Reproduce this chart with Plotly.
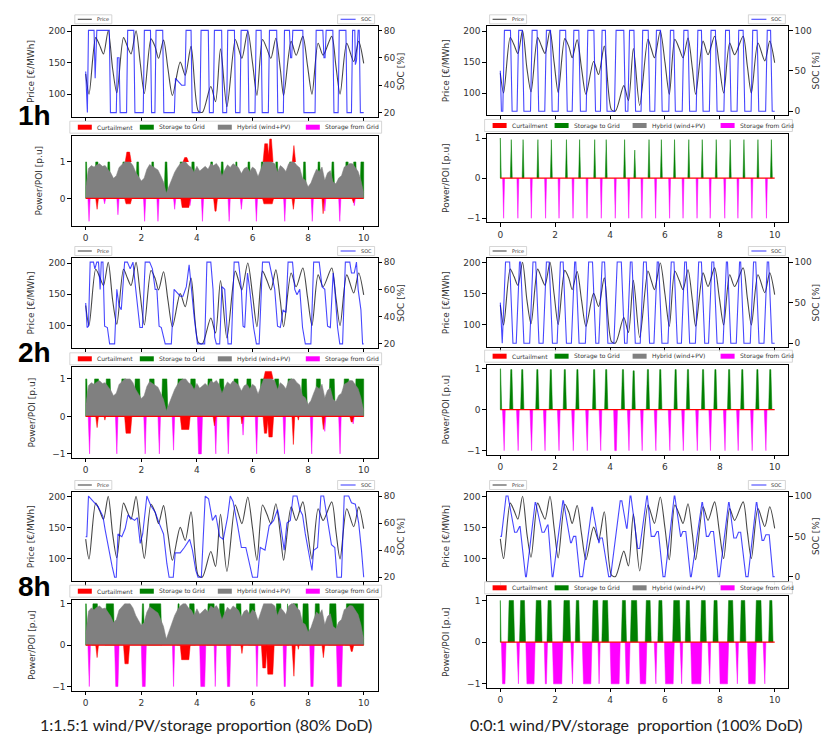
import plotly.graph_objects as go

W, H = 831, 744

# ---------------- data ----------------
time_ticks = [0, 2, 4, 6, 8, 10]
price_ticks = [100, 150, 200]
soc_ticks_80 = [20, 40, 60, 80]
soc_ticks_100 = [0, 50, 100]
power_ticks_1h_mix = [0, 1]
power_ticks = [-1, 0, 1]

duration_labels = ["1h", "2h", "8h"]
captions = ["1:1.5:1 wind/PV/storage proportion (80% DoD)",
            "0:0:1 wind/PV/storage  proportion (100% DoD)"]
power_legend_names = ["Curtailment", "Storage to Grid", "Hybrid (wind+PV)", "Storage from Grid"]

# electricity price (t [days], €/MWh)
price = [(0.00, 132), (0.12, 100), (0.36, 190), (0.50, 178), (0.64, 164), (0.81, 201), (0.97, 140),
         (1.12, 102), (1.36, 190), (1.50, 176), (1.63, 164), (1.81, 201), (1.96, 150), (2.11, 101),
         (2.35, 188), (2.50, 175), (2.62, 157), (2.80, 186), (2.96, 140), (3.12, 98), (3.40, 151),
         (3.58, 130), (3.79, 176), (4.05, 73), (4.20, 71), (4.50, 112), (4.67, 88), (4.85, 172),
         (5.08, 80), (5.38, 187), (5.50, 172), (5.62, 157), (5.83, 200), (6.00, 150), (6.16, 98),
         (6.36, 187), (6.52, 172), (6.66, 157), (6.84, 189), (7.00, 140), (7.12, 98), (7.39, 184),
         (7.57, 162), (7.81, 192), (7.98, 145), (8.14, 100), (8.36, 181), (8.54, 162), (8.85, 192),
         (9.00, 145), (9.15, 100), (9.39, 181), (9.64, 152), (9.82, 184), (10.00, 149)]

# hybrid (wind+PV) output to grid, every 0.1 day
hybrid_t = [i / 10 for i in range(101)]
hybrid = [0.28, 0.82, 0.90, 0.86, 0.92, 0.95, 0.88, 0.90, 0.80, 0.70,
          0.55, 0.62, 0.85, 0.92, 1.00, 1.00, 1.00, 0.90, 0.72, 0.60,
          0.48, 0.55, 0.80, 0.93, 0.88, 0.85, 0.78, 0.62, 0.45, 0.15,
          0.35, 0.55, 0.72, 0.85, 0.95, 1.00, 1.00, 0.90, 0.85, 0.72,
          0.88, 0.75, 0.82, 0.88, 0.80, 0.95, 0.90, 0.96, 0.85, 0.62,
          0.78, 0.92, 0.85, 0.95, 0.90, 0.84, 0.68, 0.82, 0.86, 0.74,
          0.86, 0.80, 0.60, 0.78, 1.00, 1.00, 1.00, 1.00, 0.95, 0.72,
          0.90, 0.84, 0.74, 0.95, 1.00, 1.00, 0.90, 0.84, 0.55, 0.50,
          0.32, 0.42, 0.62, 0.80, 0.74, 0.86, 0.50, 0.70, 0.76, 0.45,
          0.40, 0.56, 0.62, 0.86, 0.90, 0.96, 0.95, 0.86, 0.74, 0.50,
          0.15]
curtail_zero_t = [0, 10]
curtail_zero_v = [0, 0]

# state of charge (t, %)
soc_1h_mix = [(0, 50), (0.04, 20), (0.06, 20), (0.10, 80), (0.30, 80), (0.34, 45), (0.37, 70), (0.40, 80),
              (0.85, 80), (0.89, 20), (1.10, 20), (1.14, 60), (1.20, 60), (1.24, 20), (1.47, 20), (1.51, 80),
              (1.73, 80), (1.77, 20), (2.07, 20), (2.11, 80), (2.33, 80), (2.37, 20), (2.49, 20), (2.53, 80),
              (2.77, 80), (2.81, 20), (3.19, 20), (3.23, 45), (3.45, 40), (3.57, 40), (3.61, 80), (3.79, 80),
              (3.83, 20), (4.11, 20), (4.15, 80), (4.41, 80), (4.45, 20), (4.59, 20), (4.63, 80), (4.89, 80),
              (4.93, 20), (5.07, 20), (5.11, 80), (5.35, 80), (5.39, 20), (5.55, 20), (5.59, 80), (5.83, 80),
              (5.87, 20), (6.09, 20), (6.13, 80), (6.31, 80), (6.35, 20), (6.57, 20), (6.61, 80), (6.87, 80),
              (6.91, 20), (7.11, 20), (7.15, 80), (7.33, 80), (7.37, 60), (7.41, 60), (7.45, 80), (7.81, 80),
              (7.85, 20), (8.25, 20), (8.29, 80), (8.53, 80), (8.57, 60), (8.61, 60), (8.65, 80), (8.89, 80),
              (8.93, 20), (9.08, 20), (9.12, 80), (9.36, 80), (9.40, 20), (9.56, 20), (9.60, 80), (9.68, 80),
              (9.70, 55), (9.74, 58), (9.80, 80), (9.84, 80), (9.88, 20), (10.00, 20)]
soc_2h_mix = [(0, 50), (0.05, 32), (0.10, 33), (0.16, 80), (0.28, 80), (0.33, 75), (0.40, 80), (0.46, 80),
              (0.52, 60), (0.56, 80), (0.62, 80), (0.68, 33), (0.78, 32), (0.86, 20), (1.04, 20), (1.12, 60),
              (1.20, 48), (1.28, 45), (1.40, 80), (1.50, 80), (1.60, 75), (1.70, 80), (1.80, 60), (1.95, 32),
              (2.04, 32), (2.14, 80), (2.30, 80), (2.40, 75), (2.50, 60), (2.56, 60), (2.64, 33), (2.72, 32),
              (2.86, 20), (3.08, 20), (3.18, 60), (3.28, 58), (3.40, 55), (3.50, 55), (3.62, 62), (3.72, 78),
              (3.80, 60), (3.90, 40), (4.02, 20), (4.28, 20), (4.36, 80), (4.50, 80), (4.58, 60), (4.64, 25),
              (4.70, 20), (4.82, 20), (4.90, 62), (5.00, 60), (5.08, 33), (5.12, 20), (5.24, 20), (5.34, 80),
              (5.50, 80), (5.60, 60), (5.66, 33), (5.72, 32), (5.82, 72), (5.90, 60), (6.04, 32), (6.14, 20),
              (6.24, 20), (6.36, 80), (6.60, 80), (6.70, 70), (6.80, 60), (6.90, 33), (7.00, 32), (7.10, 45),
              (7.20, 43), (7.28, 80), (7.44, 80), (7.52, 60), (7.60, 56), (7.70, 60), (7.80, 32), (7.90, 20),
              (8.10, 20), (8.20, 80), (8.40, 80), (8.50, 62), (8.60, 60), (8.70, 33), (8.80, 32), (8.90, 72),
              (8.96, 60), (9.06, 32), (9.14, 20), (9.24, 20), (9.34, 80), (9.50, 80), (9.56, 72), (9.66, 72),
              (9.74, 80), (9.80, 60), (9.90, 45), (9.96, 20), (10.00, 20)]
soc_8h_mix = [(0, 50), (0.04, 50), (0.10, 80), (0.20, 78), (0.32, 75), (0.45, 72), (0.55, 68), (0.62, 65),
              (0.70, 55), (0.85, 38), (0.95, 28), (1.04, 20), (1.10, 20), (1.16, 52), (1.30, 50), (1.42, 56),
              (1.52, 66), (1.62, 64), (1.76, 62), (1.86, 64), (1.96, 45), (2.05, 52), (2.20, 80), (2.34, 73),
              (2.50, 68), (2.64, 60), (2.80, 52), (2.92, 30), (3.00, 20), (3.15, 20), (3.22, 38), (3.40, 38),
              (3.55, 42), (3.74, 48), (3.84, 40), (3.96, 25), (4.04, 20), (4.16, 20), (4.30, 80), (4.42, 78),
              (4.56, 62), (4.68, 66), (4.82, 50), (4.95, 48), (5.10, 64), (5.20, 80), (5.30, 76), (5.45, 60),
              (5.60, 42), (5.76, 42), (5.90, 30), (6.00, 20), (6.18, 20), (6.28, 42), (6.45, 40), (6.60, 58),
              (6.76, 62), (6.90, 70), (7.00, 60), (7.14, 40), (7.24, 60), (7.36, 62), (7.46, 80), (7.60, 80),
              (7.70, 70), (7.80, 66), (7.90, 52), (8.02, 38), (8.14, 25), (8.20, 40), (8.34, 42), (8.46, 80),
              (8.56, 80), (8.70, 62), (8.84, 44), (8.96, 42), (9.04, 20), (9.20, 20), (9.30, 80), (9.46, 80),
              (9.56, 75), (9.70, 74), (9.82, 60), (9.92, 40), (10.00, 20)]
soc_1h_sto = [(0, 50), (0.04, 0), (0.09, 0), (0.15, 100), (0.37, 100), (0.43, 0), (0.61, 0), (0.67, 100),
              (0.80, 100), (0.86, 0), (1.10, 0), (1.16, 100), (1.34, 100), (1.40, 0), (1.62, 0), (1.68, 100),
              (1.83, 100), (1.89, 0), (2.11, 0), (2.17, 100), (2.38, 100), (2.44, 0), (2.62, 0), (2.68, 100),
              (2.86, 100), (2.92, 0), (3.13, 0), (3.19, 100), (3.41, 100), (3.47, 0), (3.65, 0), (3.71, 100),
              (3.83, 100), (3.89, 0), (4.16, 0), (4.22, 100), (4.50, 100), (4.56, 0), (4.65, 0), (4.71, 100),
              (4.87, 100), (4.93, 0), (5.13, 0), (5.19, 100), (5.39, 100), (5.45, 0), (5.63, 0), (5.69, 100),
              (5.84, 100), (5.90, 0), (6.14, 0), (6.20, 100), (6.32, 100), (6.38, 0), (6.63, 0), (6.69, 100),
              (6.84, 100), (6.90, 0), (7.14, 0), (7.20, 100), (7.33, 100), (7.39, 0), (7.62, 0), (7.68, 100),
              (7.84, 100), (7.90, 0), (8.15, 0), (8.21, 100), (8.35, 100), (8.41, 0), (8.63, 0), (8.69, 100),
              (8.85, 100), (8.91, 0), (9.14, 0), (9.20, 100), (9.36, 100), (9.42, 0), (9.67, 0), (9.73, 100),
              (9.85, 100), (9.91, 0), (10.00, 0)]
soc_2h_sto = [(0, 50), (0.06, 5), (0.07, 0), (0.19, 100), (0.34, 100), (0.46, 0), (0.58, 0), (0.70, 100),
              (0.74, 100), (0.86, 0), (1.07, 0), (1.19, 100), (1.29, 100), (1.41, 0), (1.56, 0), (1.68, 100),
              (1.78, 100), (1.90, 0), (2.07, 0), (2.19, 100), (2.29, 100), (2.41, 0), (2.59, 0), (2.71, 100),
              (2.75, 100), (2.87, 0), (3.10, 0), (3.22, 100), (3.36, 100), (3.48, 0), (3.59, 0), (3.71, 100),
              (3.80, 100), (3.92, 0), (4.14, 0), (4.26, 100), (4.41, 100), (4.53, 0), (4.62, 0), (4.74, 100),
              (4.80, 100), (4.92, 0), (5.10, 0), (5.22, 100), (5.32, 100), (5.44, 0), (5.60, 0), (5.72, 100),
              (5.77, 100), (5.89, 0), (6.11, 0), (6.23, 100), (6.33, 100), (6.45, 0), (6.60, 0), (6.72, 100),
              (6.78, 100), (6.90, 0), (7.11, 0), (7.23, 100), (7.33, 100), (7.45, 0), (7.59, 0), (7.71, 100),
              (7.78, 100), (7.90, 0), (8.12, 0), (8.24, 100), (8.28, 100), (8.40, 0), (8.60, 0), (8.72, 100),
              (8.76, 100), (8.88, 0), (9.11, 0), (9.23, 100), (9.31, 100), (9.43, 0), (9.61, 0), (9.73, 100),
              (9.78, 100), (9.90, 0), (10.00, 0)]
soc_8h_sto = [(0, 50), (0.04, 50), (0.21, 100), (0.28, 100), (0.52, 55), (0.60, 55), (0.70, 62), (0.72, 62),
              (0.92, 0), (0.95, 0), (1.27, 92), (1.29, 92), (1.52, 55), (1.60, 55), (1.72, 64), (1.74, 64),
              (1.89, 0), (1.92, 0), (2.28, 94), (2.30, 94), (2.56, 42), (2.59, 42), (2.67, 50), (2.75, 50),
              (2.90, 0), (3.00, 0), (3.34, 86), (3.36, 86), (3.59, 42), (3.60, 42), (3.64, 48), (3.72, 48),
              (3.95, 0), (4.02, 0), (4.37, 94), (4.43, 94), (4.60, 60), (4.62, 60), (4.73, 100), (4.76, 100),
              (5.01, 35), (5.08, 35), (5.34, 100), (5.36, 100), (5.50, 50), (5.62, 50), (5.71, 56), (5.76, 56),
              (5.93, 0), (6.00, 0), (6.34, 100), (6.36, 100), (6.57, 50), (6.58, 50), (6.65, 56), (6.76, 56),
              (6.93, 0), (6.96, 0), (7.35, 92), (7.37, 92), (7.51, 50), (7.59, 50), (7.67, 56), (7.77, 56),
              (7.94, 0), (7.99, 0), (8.32, 92), (8.34, 92), (8.51, 48), (8.60, 48), (8.68, 55), (8.76, 55),
              (8.95, 0), (9.03, 0), (9.33, 92), (9.35, 92), (9.54, 45), (9.60, 45), (9.68, 52), (9.80, 52),
              (9.94, 0), (10.00, 0)]

# power events: (start day, end day, level in p.u.)
to_grid_1h_mix = [(-0.04, 0.07, 1), (0.32, 0.48, 1), (0.76, 0.90, 1), (1.30, 1.44, 1), (1.80, 1.94, 1),
                  (2.34, 2.48, 1), (2.82, 2.96, 1), (3.36, 3.52, 1), (3.78, 3.94, 1), (4.46, 4.60, 1),
                  (4.84, 4.98, 1), (5.36, 5.48, 1), (5.80, 5.94, 1), (6.28, 6.42, 1), (6.80, 6.94, 1),
                  (7.30, 7.44, 1), (7.80, 7.94, 1), (8.32, 8.46, 1), (8.82, 8.96, 1), (9.32, 9.48, 1),
                  (9.60, 9.76, 1), (9.86, 10.04, 1)]
from_grid_1h_mix = [(0.08, 0.16, -0.63), (0.64, 0.72, -0.15), (1.12, 1.20, -0.45), (2.08, 2.16, -0.63),
                    (2.56, 2.64, -0.63), (3.16, 3.24, -0.30), (3.71, 3.79, -0.20), (4.16, 4.24, -0.63),
                    (5.12, 5.20, -0.63), (5.56, 5.64, -0.30), (6.10, 6.18, -0.63), (7.12, 7.20, -0.63),
                    (8.11, 8.19, -0.63), (8.56, 8.64, -0.35), (9.10, 9.18, -0.63), (9.62, 9.70, -0.20)]
curt_neg_1h_mix = [(0.36, 0.46, -0.30), (1.40, 1.66, -0.15), (3.42, 3.76, -0.25), (4.60, 4.74, -0.35),
                   (6.36, 6.76, -0.15), (7.42, 7.52, -0.30), (8.50, 8.58, -0.42), (9.58, 9.68, -0.12)]
curt_pos_1h_mix = [(1.42, 1.64, 1.27), (3.50, 3.70, 1.12), (6.38, 6.60, 1.50), (6.56, 6.74, 1.63),
                   (7.43, 7.55, 1.45)]

to_grid_2h_mix = [(-0.04, 0.08, 1), (0.28, 0.50, 1), (0.70, 0.92, 1), (1.26, 1.48, 1), (1.74, 1.98, 1),
                  (2.26, 2.50, 1), (2.72, 2.96, 1), (3.28, 3.54, 1), (3.74, 3.98, 1), (4.36, 4.58, 1),
                  (4.78, 5.00, 1), (5.30, 5.52, 1), (5.76, 5.98, 1), (6.26, 6.46, 1), (6.76, 6.98, 1),
                  (7.24, 7.46, 1), (7.74, 7.98, 1), (8.26, 8.48, 1), (8.74, 8.98, 1), (9.26, 9.50, 1),
                  (9.68, 10.04, 1)]
from_grid_2h_mix = [(0.09, 0.18, -1), (1.07, 1.16, -1), (2.09, 2.18, -1), (2.60, 2.69, -1), (3.11, 3.20, -0.9),
                    (4.02, 4.20, -1), (4.63, 4.72, -1), (5.08, 5.17, -1), (5.62, 5.70, -0.5), (6.10, 6.19, -1),
                    (7.10, 7.19, -1), (8.08, 8.17, -1), (8.56, 8.64, -0.4), (9.10, 9.19, -1), (9.58, 9.66, -0.2)]
curt_neg_2h_mix = [(0.36, 0.46, -0.30), (0.66, 0.72, -0.10), (1.40, 1.66, -0.45), (3.40, 3.76, -0.35),
                   (4.58, 4.68, -0.25), (5.58, 5.66, -0.20), (6.38, 6.56, -0.45), (6.54, 6.76, -0.55),
                   (7.42, 7.52, -0.75), (7.62, 7.68, -0.10), (8.50, 8.60, -0.35), (9.50, 9.64, -0.15)]
curt_pos_2h_mix = [(6.40, 6.74, 1.20)]

to_grid_8h_mix = [(-0.04, 0.06, 1), (0.22, 0.46, 1), (0.70, 1.04, 1), (2.00, 2.12, 1), (2.26, 2.74, 1),
                  (3.28, 3.40, 1), (3.70, 3.94, 1), (4.36, 4.66, 1), (4.78, 5.02, 1), (5.38, 5.62, 1),
                  (5.86, 6.12, 1), (6.82, 7.06, 1), (7.22, 7.30, 1), (7.42, 7.66, 1), (7.78, 8.04, 1),
                  (8.22, 8.44, 1), (8.74, 9.04, 1), (9.34, 10.04, 1)]
from_grid_8h_mix = [(0.08, 0.17, -1), (1.04, 1.20, -1), (2.00, 2.18, -1), (3.12, 3.20, -1), (4.10, 4.32, -1),
                    (4.62, 4.70, -1), (5.06, 5.22, -1), (6.12, 6.20, -1), (7.10, 7.22, -1), (8.06, 8.22, -1),
                    (9.02, 9.24, -1)]
curt_neg_8h_mix = [(0.36, 0.46, -0.30), (1.36, 1.58, -0.45), (3.40, 3.76, -0.35), (5.58, 5.66, -0.20),
                   (6.32, 6.52, -0.55), (6.50, 6.78, -0.70), (7.42, 7.54, -0.75), (7.62, 7.68, -0.10),
                   (8.50, 8.60, -0.30), (9.50, 9.64, -0.15)]

to_grid_1h_sto = [(-0.035, 0.035, 1), (0.365, 0.435, 0.96), (0.795, 0.865, 0.96), (1.335, 1.405, 0.96),
                  (1.825, 1.895, 0.96), (2.375, 2.445, 0.96), (2.855, 2.925, 0.96), (3.405, 3.475, 0.96),
                  (3.825, 3.895, 0.96), (4.495, 4.565, 0.96), (4.865, 4.935, 0.70), (5.385, 5.455, 0.96),
                  (5.835, 5.905, 0.96), (6.315, 6.385, 0.96), (6.835, 6.905, 0.96), (7.325, 7.395, 0.96),
                  (7.835, 7.905, 0.96), (8.345, 8.415, 0.96), (8.845, 8.915, 0.96), (9.355, 9.425, 0.96),
                  (9.845, 9.915, 0.96)]
from_grid_1h_sto = [(0.085, 0.155, -1), (0.605, 0.675, -1), (1.095, 1.165, -1), (1.615, 1.685, -1),
                    (2.105, 2.175, -1), (2.615, 2.685, -1), (3.125, 3.195, -1), (3.645, 3.715, -1),
                    (4.155, 4.225, -1), (4.645, 4.715, -1), (5.125, 5.195, -1), (5.625, 5.695, -1),
                    (6.135, 6.205, -1), (6.625, 6.695, -1), (7.135, 7.205, -1), (7.615, 7.685, -1),
                    (8.145, 8.215, -1), (8.625, 8.695, -1), (9.135, 9.205, -1), (9.665, 9.735, -1)]

to_grid_2h_sto = [(-0.05, 0.05, 1), (0.34, 0.46, 0.98), (0.74, 0.86, 0.98), (1.29, 1.41, 0.98),
                  (1.78, 1.90, 0.98), (2.29, 2.41, 0.98), (2.75, 2.87, 0.98), (3.36, 3.48, 0.98),
                  (3.80, 3.92, 0.98), (4.41, 4.53, 0.98), (4.80, 4.92, 0.95), (5.32, 5.44, 0.98),
                  (5.77, 5.89, 0.98), (6.33, 6.45, 0.98), (6.78, 6.90, 0.98), (7.33, 7.45, 0.98),
                  (7.78, 7.90, 0.98), (8.28, 8.40, 0.98), (8.76, 8.88, 0.98), (9.31, 9.43, 0.98),
                  (9.78, 9.90, 0.98)]
from_grid_2h_sto = [(0.08, 0.18, -1), (0.59, 0.69, -1), (1.08, 1.18, -1), (1.57, 1.67, -1), (2.08, 2.18, -1),
                    (2.60, 2.70, -1), (3.11, 3.21, -1), (3.60, 3.70, -1), (4.13, 4.27, -1), (4.63, 4.73, -1),
                    (5.11, 5.21, -1), (5.61, 5.71, -1), (6.12, 6.22, -1), (6.61, 6.71, -1), (7.12, 7.22, -1),
                    (7.60, 7.70, -1), (8.13, 8.23, -1), (8.61, 8.71, -1), (9.12, 9.22, -1), (9.62, 9.72, -1)]

to_grid_8h_sto = [(-0.03, 0.03, 1), (0.28, 0.52, 1), (0.70, 0.92, 1), (1.27, 1.52, 1), (1.70, 1.89, 1),
                  (2.28, 2.56, 1), (2.73, 2.90, 1), (3.34, 3.59, 1), (3.70, 3.95, 1), (4.41, 4.60, 1),
                  (4.74, 5.01, 1), (5.28, 5.50, 1), (5.74, 5.93, 1), (6.28, 6.57, 1), (6.74, 6.93, 1),
                  (7.29, 7.51, 1), (7.75, 7.94, 1), (8.28, 8.51, 1), (8.74, 8.95, 1), (9.29, 9.54, 1),
                  (9.78, 9.94, 1)]
from_grid_8h_sto = [(0.04, 0.21, -1), (0.60, 0.70, -1), (0.93, 1.27, -1), (1.60, 1.72, -1), (1.90, 2.28, -1),
                    (2.57, 2.67, -1), (2.99, 3.34, -1), (3.56, 3.64, -1), (4.00, 4.37, -1), (4.55, 4.73, -1),
                    (5.06, 5.34, -1), (5.61, 5.71, -1), (5.98, 6.34, -1), (6.55, 6.65, -1), (6.94, 7.35, -1),
                    (7.57, 7.67, -1), (7.97, 8.32, -1), (8.58, 8.68, -1), (9.01, 9.33, -1), (9.58, 9.68, -1)]

# ---------------- styles ----------------
C_PRICE = "rgba(0,0,0,0.72)"
C_SOC = "rgba(0,0,255,0.72)"
C_RED, C_GREEN, C_GRAY, C_MAG = "#ff0000", "#008000", "#808080", "#ff00ff"
FONT = "DejaVu Sans"
TXT = "#333333"

# pixel geometry of each panel (left, right, price top/bottom, power top/bottom)
GEOM = {
    (0, 0): (63.8, 369.6, 18.3, 108.7, 127.7, 217.7),
    (1, 0): (63.8, 369.6, 250.0, 340.0, 359.3, 450.0),
    (2, 0): (63.8, 369.6, 484.0, 573.3, 591.7, 682.7),
    (0, 1): (478.6, 780.4, 18.3, 107.3, 126.0, 214.3),
    (1, 1): (478.6, 780.4, 250.0, 339.3, 356.7, 446.7),
    (2, 1): (478.6, 780.4, 484.0, 572.7, 588.3, 680.0),
}

panels = [
    dict(row=0, col=0, soc=soc_1h_mix, soc_rng=[17, 83], soc_ticks=soc_ticks_80, pw_rng=[-0.75, 1.72],
         pw_ticks=power_ticks_1h_mix, mix=True, green=to_grid_1h_mix, mag=from_grid_1h_mix,
         red=curt_neg_1h_mix, redtop=curt_pos_1h_mix),
    dict(row=0, col=1, soc=soc_1h_sto, soc_rng=[-5, 105], soc_ticks=soc_ticks_100, pw_rng=[-1.1, 1.1],
         pw_ticks=power_ticks, mix=False, green=to_grid_1h_sto, mag=from_grid_1h_sto, red=[], redtop=[]),
    dict(row=1, col=0, soc=soc_2h_mix, soc_rng=[17, 83], soc_ticks=soc_ticks_80, pw_rng=[-1.11, 1.31],
         pw_ticks=power_ticks, mix=True, green=to_grid_2h_mix, mag=from_grid_2h_mix,
         red=curt_neg_2h_mix, redtop=curt_pos_2h_mix),
    dict(row=1, col=1, soc=soc_2h_sto, soc_rng=[-5, 105], soc_ticks=soc_ticks_100, pw_rng=[-1.1, 1.1],
         pw_ticks=power_ticks, mix=False, green=to_grid_2h_sto, mag=from_grid_2h_sto, red=[], redtop=[]),
    dict(row=2, col=0, soc=soc_8h_mix, soc_rng=[17, 83], soc_ticks=soc_ticks_80, pw_rng=[-1.1, 1.1],
         pw_ticks=power_ticks, mix=True, green=to_grid_8h_mix, mag=from_grid_8h_mix,
         red=curt_neg_8h_mix, redtop=[]),
    dict(row=2, col=1, soc=soc_8h_sto, soc_rng=[-5, 105], soc_ticks=soc_ticks_100, pw_rng=[-1.1, 1.1],
         pw_ticks=power_ticks, mix=False, green=to_grid_8h_sto, mag=from_grid_8h_sto, red=[], redtop=[]),
]


def polys(events, base, ramp):
    xs, ys = [], []
    for a, b, lvl in events:
        r = min(ramp, (b - a) / 2)
        for x, y in ((a, base), (a + r, lvl), (b - r, lvl), (b, base)):
            xs.append(max(0.0, min(10.0, x)))
            ys.append(y)
        xs.append(None)
        ys.append(None)
    return xs, ys


def px(x):
    return x / W


def py(y):
    return 1 - y / H


axis_common = dict(showline=True, linecolor="black", linewidth=0.8, ticks="outside", ticklen=3.5,
                   tickwidth=0.8, tickcolor="black", showgrid=False, zeroline=False, automargin=False,
                   tickfont=dict(family=FONT, size=9, color=TXT))
title_font = dict(family=FONT, size=9, color=TXT)

fig = go.Figure()
layout = {}
shapes, annots = [], []


def fill_trace(xs, ys, color, name, xr, yr, fill="toself"):
    return go.Scatter(x=xs, y=ys, mode="lines", fill=fill, fillcolor=color,
                      line=dict(color=color, width=0.5), name=name, showlegend=False,
                      hoverinfo="skip", xaxis=xr, yaxis=yr)


for i, p in enumerate(panels):
    L, R, pt, pb, wt, wb = GEOM[(p["row"], p["col"])]
    nx1, nx2 = 2 * i + 1, 2 * i + 2
    ny1, ny2, ny3 = 3 * i + 1, 3 * i + 2, 3 * i + 3
    xr1, xr2 = ("x" if nx1 == 1 else f"x{nx1}"), f"x{nx2}"
    yr1, yr2, yr3 = ("y" if ny1 == 1 else f"y{ny1}"), f"y{ny2}", f"y{ny3}"
    xa1, xa2 = ("xaxis" if nx1 == 1 else f"xaxis{nx1}"), f"xaxis{nx2}"
    ya1, ya2, ya3 = ("yaxis" if ny1 == 1 else f"yaxis{ny1}"), f"yaxis{ny2}", f"yaxis{ny3}"

    # ---- price / SOC subplot ----
    fig.add_trace(go.Scatter(x=[t for t, _ in price], y=[v for _, v in price], mode="lines", name="Price",
                             line=dict(color=C_PRICE, width=1.1, shape="spline", smoothing=0.8),
                             showlegend=False, hoverinfo="skip", xaxis=xr1, yaxis=yr1))
    fig.add_trace(go.Scatter(x=[t for t, _ in p["soc"]], y=[v for _, v in p["soc"]], mode="lines", name="SOC",
                             line=dict(color=C_SOC, width=1.1), showlegend=False, hoverinfo="skip",
                             xaxis=xr1, yaxis=yr2))

    # ---- power subplot ----
    if p["redtop"]:
        xs, ys = polys(p["redtop"], 1.0, 0.06)
        fig.add_trace(fill_trace(xs, ys, C_RED, "Curtailment", xr2, yr3))
    xs, ys = polys(p["green"], 0.0, 0.04)
    fig.add_trace(fill_trace(xs, ys, C_GREEN, "Storage to Grid", xr2, yr3))
    if p["mix"]:
        fig.add_trace(fill_trace(hybrid_t, hybrid, C_GRAY, "Hybrid (wind+PV)", xr2, yr3, fill="tozeroy"))
    xs, ys = polys(p["mag"], 0.0, 0.04)
    fig.add_trace(fill_trace(xs, ys, C_MAG, "Storage from Grid", xr2, yr3))
    if p["red"]:
        xs, ys = polys(p["red"], 0.0, 0.05)
        fig.add_trace(fill_trace(xs, ys, C_RED, "Curtailment", xr2, yr3))
    fig.add_trace(go.Scatter(x=curtail_zero_t, y=curtail_zero_v, mode="lines", line=dict(color=C_RED, width=1.2),
                             showlegend=False, hoverinfo="skip", xaxis=xr2, yaxis=yr3, name="Curtailment"))

    # ---- axes ----
    layout[xa1] = dict(domain=[px(L), px(R)], anchor=yr1, range=[-0.5, 10.5], tickvals=time_ticks,
                       showticklabels=False, mirror=True, **axis_common)
    layout[xa2] = dict(domain=[px(L), px(R)], anchor=yr3, range=[-0.5, 10.5], tickvals=time_ticks,
                       mirror=True, **axis_common)
    layout[ya1] = dict(domain=[py(pb), py(pt)], anchor=xr1, range=[64, 208], tickvals=price_ticks, mirror=True,
                       title=dict(text="Price [€/MWh]", font=title_font, standoff=12), **axis_common)
    layout[ya2] = dict(overlaying=yr1, side="right", anchor=xr1, range=p["soc_rng"], tickvals=p["soc_ticks"],
                       title=dict(text="SOC [%]", font=title_font, standoff=1), **axis_common)
    layout[ya3] = dict(domain=[py(wb), py(wt)], anchor=xr2, range=p["pw_rng"], tickvals=p["pw_ticks"], mirror=True,
                       title=dict(text="Power/POI [p.u]", font=title_font, standoff=15), **axis_common)

    # ---- legends (matplotlib-style boxes) ----
    box = dict(type="rect", xref="paper", yref="paper", fillcolor="rgba(255,255,255,0.9)",
               line=dict(color="#cccccc", width=0.8), layer="above")
    shapes.append(dict(box, x0=px(L + 3), x1=px(L + 40), y0=py(pt - 2.5), y1=py(pt - 11.5)))
    shapes.append(dict(type="line", xref="paper", yref="paper", x0=px(L + 6), x1=px(L + 20),
                       y0=py(pt - 7), y1=py(pt - 7), line=dict(color=C_PRICE, width=1.1)))
    annots.append(dict(text="Price", x=px(L + 23), y=py(pt - 7), xref="paper", yref="paper", xanchor="left",
                       yanchor="middle", showarrow=False, font=dict(family=FONT, size=5, color=TXT)))
    shapes.append(dict(box, x0=px(R - 40), x1=px(R - 3), y0=py(pt - 2.5), y1=py(pt - 11.5)))
    shapes.append(dict(type="line", xref="paper", yref="paper", x0=px(R - 37), x1=px(R - 22),
                       y0=py(pt - 7), y1=py(pt - 7), line=dict(color=C_SOC, width=1.1)))
    annots.append(dict(text="SOC", x=px(R - 19), y=py(pt - 7), xref="paper", yref="paper", xanchor="left",
                       yanchor="middle", showarrow=False, font=dict(family=FONT, size=5, color=TXT)))

    shapes.append(dict(box, x0=px(L - 2), x1=px(R + 4), y0=py(wt - 2.5), y1=py(wt - 14.5)))
    for off, name, col in zip([6, 68, 146, 234], power_legend_names, [C_RED, C_GREEN, C_GRAY, C_MAG]):
        shapes.append(dict(type="rect", xref="paper", yref="paper", x0=px(L + off), x1=px(L + off + 14),
                           y0=py(wt - 6), y1=py(wt - 11), fillcolor=col, line=dict(width=0), layer="above"))
        annots.append(dict(text=name, x=px(L + off + 17), y=py(wt - 8.5), xref="paper", yref="paper",
                           xanchor="left", yanchor="middle", showarrow=False,
                           font=dict(family=FONT, size=6, color=TXT)))

# duration labels
for lab, yc in zip(duration_labels, [108, 345, 578]):
    annots.append(dict(text=f"<b>{lab}</b>", x=px(27), y=py(yc), xref="paper", yref="paper", showarrow=False,
                       xanchor="center", yanchor="middle",
                       font=dict(family="Liberation Sans, Arial", size=28, color="black")))
# captions
for cap, xc in zip(captions, [198, 628]):
    annots.append(dict(text=cap, x=px(xc), y=py(716), xref="paper", yref="paper", showarrow=False,
                       xanchor="center", yanchor="middle", font=dict(family="Lato", size=16, color="#222222")))

fig.update_layout(width=W, height=H, margin=dict(l=0, r=0, t=0, b=0), paper_bgcolor="white",
                  plot_bgcolor="white", showlegend=False, shapes=shapes, annotations=annots, **layout)

fig.write_html("out.html")
